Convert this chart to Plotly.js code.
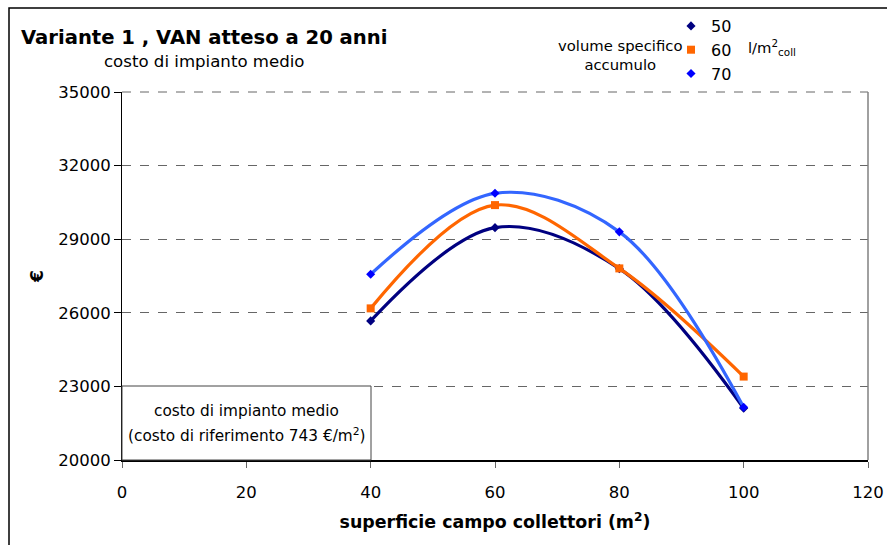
<!DOCTYPE html>
<html>
<head>
<meta charset="utf-8">
<script src="https://cdn.plot.ly/plotly-3.0.1.min.js"></script>
<style>html,body{margin:0;padding:0;background:#fff;}#chart{width:887px;height:545px;}</style>
</head>
<body>
<div id="chart"></div>
<script>
// Data
const superficie = [40, 60, 80, 100];
const van50 = [25670, 29470, 27800, 22110];
const van60 = [26180, 30390, 27810, 23400];
const van70 = [27570, 30870, 29300, 22150];
const seriesNames = ['50', '60', '70'];
const xTicks = [0, 20, 40, 60, 80, 100, 120];
const yTicks = [20000, 23000, 26000, 29000, 32000, 35000];

const FONT = 'DejaVu Sans, Verdana, sans-serif';
const colors = ['#000080', '#FF6600', '#3366FF'];
const markerColors = ['#000080', '#FF6600', '#0000FF'];
const symbols = ['diamond', 'square', 'diamond'];
const markerSizes = [7, 8, 7];
const allY = [van50, van60, van70];

const traces = [];
allY.forEach((ys, i) => {
  traces.push({
    x: superficie, y: ys, type: 'scatter', mode: 'lines',
    line: {color: colors[i], width: 3.2, shape: 'spline', smoothing: 1.0},
    showlegend: false, hoverinfo: 'skip'
  });
});
allY.forEach((ys, i) => {
  traces.push({
    x: superficie, y: ys, type: 'scatter', mode: 'markers', name: seriesNames[i],
    marker: {color: markerColors[i], symbol: symbols[i], size: markerSizes[i]},
    showlegend: true
  });
});

const L = 122, R = 868, T = 92, B = 460, W = 887, H = 545;
const px = x => (x - L) / (R - L);
const py = y => (B - y) / (B - T);

const layout = {
  width: W, height: H,
  margin: {l: L, r: W - R, t: T, b: H - B, pad: 0, autoexpand: false},
  paper_bgcolor: '#fff', plot_bgcolor: '#fff',
  font: {family: FONT, size: 16, color: '#000'},
  showlegend: true,
  legend: {
    x: px(671), y: py(9), xanchor: 'left', yanchor: 'top',
    bgcolor: 'rgba(0,0,0,0)', borderwidth: 0,
    font: {family: FONT, size: 16, color: '#000'},
    traceorder: 'normal'
  },
  xaxis: {
    range: [0, 120], tickvals: xTicks, ticktext: xTicks.map(String),
    showgrid: false, zeroline: false,
    showline: true, linecolor: '#000', linewidth: 2,
    ticks: 'outside', ticklen: 6, tickcolor: '#666', tickwidth: 1,
    ticklabelstandoff: 10,
    tickfont: {family: FONT, size: 16.5},
    title: {text: 'superficie campo collettori (m<sup>2</sup>)', font: {family: FONT, size: 17.4, weight: 'bold'}, standoff: 15},
    fixedrange: true
  },
  yaxis: {
    range: [20000, 35000], tickvals: yTicks, ticktext: yTicks.map(String),
    showgrid: true, gridcolor: '#666', griddash: 'dash', gridwidth: 1,
    zeroline: false,
    showline: true, linecolor: '#000', linewidth: 1,
    ticks: 'outside', ticklen: 7, tickcolor: '#000', tickwidth: 1,
    tickfont: {family: FONT, size: 16.5},
    title: {text: '€', font: {family: FONT, size: 17, weight: 'bold'}, standoff: 10},
    fixedrange: true
  },
  shapes: [
    // outer chart frame
    {type: 'rect', xref: 'paper', yref: 'paper', x0: px(9), x1: px(895), y0: py(560), y1: py(8),
     line: {color: '#000', width: 1.5}, fillcolor: 'rgba(0,0,0,0)', layer: 'below'},
    // top dashed gridline of plot area
    {type: 'line', xref: 'paper', yref: 'paper', x0: 0, x1: 1, y0: 1, y1: 1,
     line: {color: '#666', width: 1, dash: 'dash'}, layer: 'below'},
    // right border of plot area
    {type: 'line', xref: 'paper', yref: 'paper', x0: 1, x1: 1, y0: 0, y1: 1,
     line: {color: '#808080', width: 1.5}},
    // note box
    {type: 'rect', xref: 'paper', yref: 'paper', x0: px(122), x1: px(371), y0: 0, y1: py(386),
     line: {color: '#444', width: 1}, fillcolor: '#fff', layer: 'above'}
  ],
  annotations: [
    {xref: 'paper', yref: 'paper', x: px(204), y: py(37), xanchor: 'center', yanchor: 'middle', showarrow: false,
     text: '<b>Variante 1 , VAN atteso a 20 anni</b>', font: {family: FONT, size: 19.6, color: '#000'}},
    {xref: 'paper', yref: 'paper', x: px(204), y: py(62), xanchor: 'center', yanchor: 'middle', showarrow: false,
     text: 'costo di impianto medio', font: {family: FONT, size: 16.6, color: '#000'}},
    {xref: 'paper', yref: 'paper', x: px(620), y: py(55), xanchor: 'center', yanchor: 'middle', showarrow: false,
     text: 'volume specifico<br>accumulo', font: {family: FONT, size: 14.8, color: '#000'}},
    {xref: 'paper', yref: 'paper', x: px(746), y: py(48), xanchor: 'left', yanchor: 'middle', showarrow: false,
     text: 'l/m<sup>2</sup><sub>coll</sub>', font: {family: FONT, size: 14.8, color: '#000'}},
    {xref: 'paper', yref: 'paper', x: px(246), y: py(411), xanchor: 'center', yanchor: 'middle', showarrow: false,
     text: 'costo di impianto medio', font: {family: FONT, size: 15.3, color: '#000'}},
    {xref: 'paper', yref: 'paper', x: px(246), y: py(435), xanchor: 'center', yanchor: 'middle', showarrow: false,
     text: '(costo di riferimento 743 €/m<sup>2</sup>)', font: {family: FONT, size: 15.3, color: '#000'}}
  ]
};

Plotly.newPlot('chart', traces, layout, {displayModeBar: false, staticPlot: true});
</script>
</body>
</html>
